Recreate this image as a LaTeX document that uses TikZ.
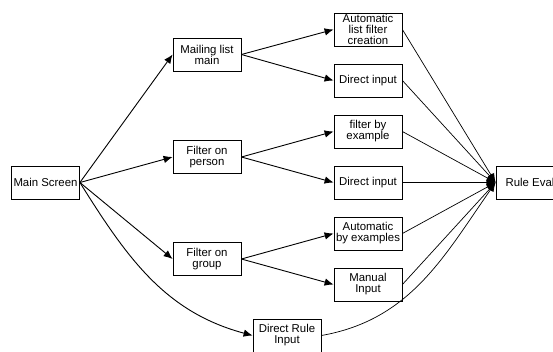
\documentclass[tikz,border=0pt]{standalone}
\usepackage{fontspec}
\setmainfont{Liberation Sans}
\usetikzlibrary{arrows.meta}
\begin{document}
\begin{tikzpicture}[x=1pt,y=-1pt,
  box/.style={draw,line width=0.8pt,minimum width=68pt,minimum height=33pt,inner sep=1pt,align=center,
    font=\fontsize{11.4pt}{11pt}\selectfont},
  arr/.style={line width=0.9pt,-{Latex[length=9pt,width=7.5pt]}},
  arr2/.style={line width=0.7pt,-{Latex[length=9pt,width=7.5pt]}}]
\useasboundingbox (0,0) rectangle (553,351);
\node[box] (ms) at (45.5,182.5) {Main Screen};
\node[box] (ml) at (207,54.5) {Mailing list\\main};
\node[box] (fp) at (207,157) {Filter on\\person};
\node[box] (fg) at (207,259) {Filter on\\group};
\node[box] (dr) at (287,335.5) {Direct Rule\\Input};
\node[box] (a1) at (368,29.5) {Automatic\\list filter\\creation};
\node[box] (a2) at (368,80.5) {Direct input};
\node[box] (a3) at (368,131.5) {filter by\\example};
\node[box] (a4) at (368,182.5) {Direct input};
\node[box] (a5) at (368,233.5) {Automatic\\by examples};
\node[box] (a6) at (368,284.5) {Manual\\Input};
\node[box] (re) at (530,182.5) {Rule Eval};
\draw[arr] (ms.east) -- (ml.west);
\draw[arr] (ms.east) -- (fp.west);
\draw[arr] (ms.east) -- (fg.west);
\draw[arr] (ms.east) to[out=-58,in=165] (dr.west);
\draw[arr] (ml.east) -- (a1.west);
\draw[arr] (ml.east) -- (a2.west);
\draw[arr] (fp.east) -- (a3.west);
\draw[arr] (fp.east) -- (a4.west);
\draw[arr] (fg.east) -- (a5.west);
\draw[arr] (fg.east) -- (a6.west);
\foreach \n in {a1,a2,a3,a4,a5,a6}{\draw[arr2] (\n.east) -- (re.west);}
\draw[arr2] (dr.east) to[out=10,in=-125] (re.west);
\end{tikzpicture}
\end{document}
